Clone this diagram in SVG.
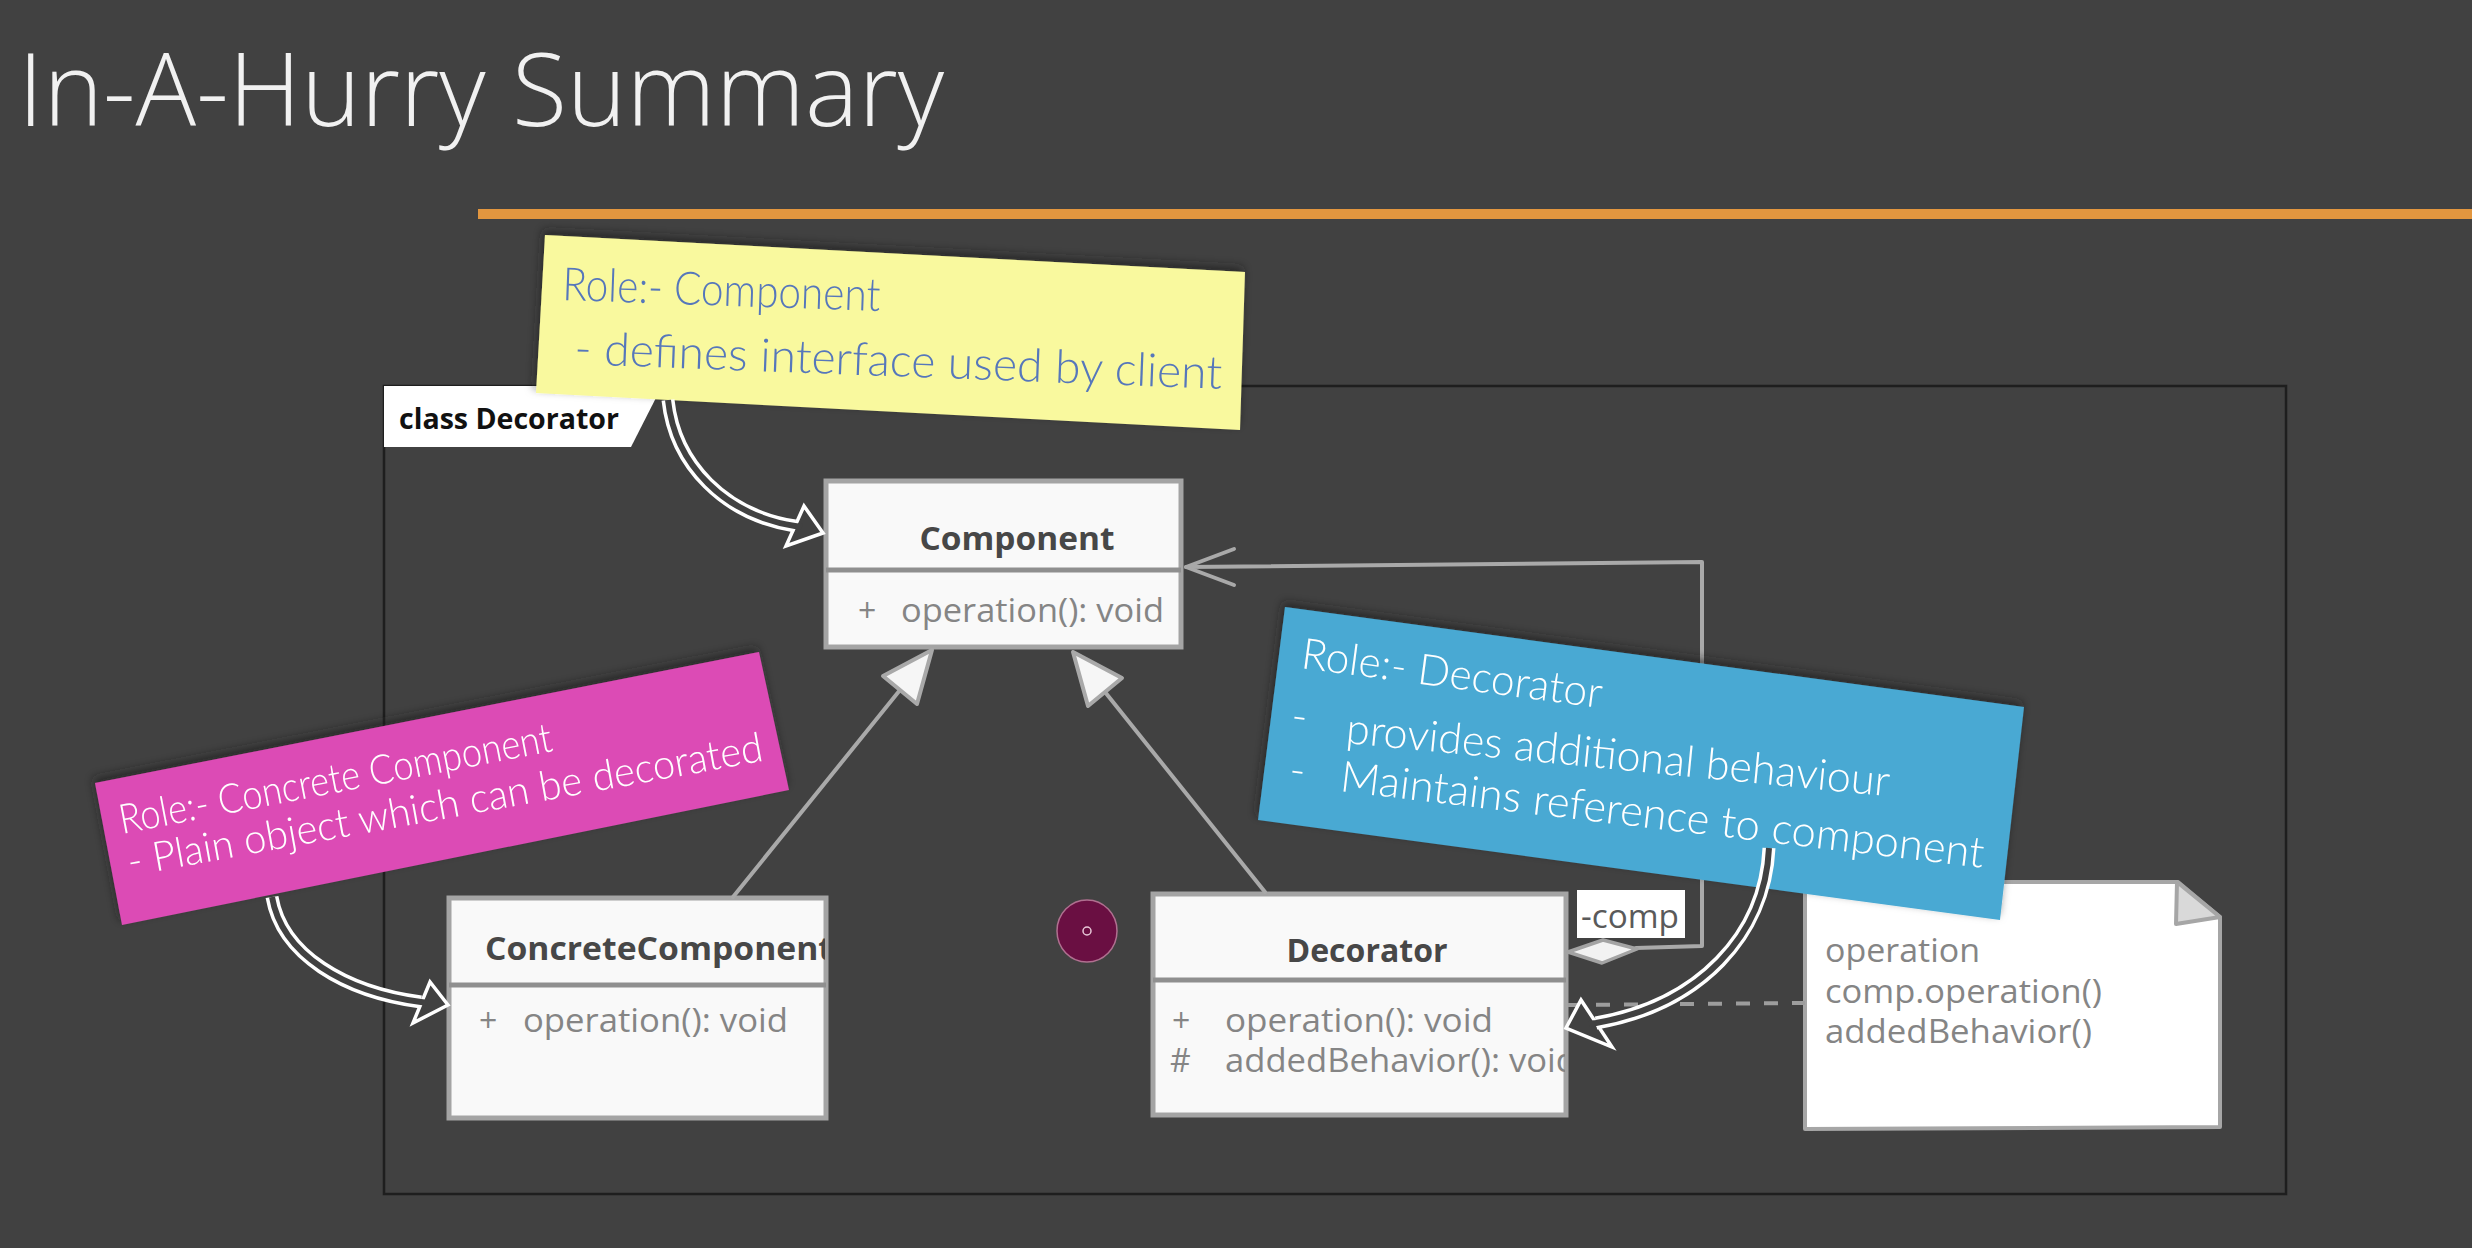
<svg xmlns="http://www.w3.org/2000/svg" width="2472" height="1248" viewBox="0 0 2472 1248">
  <style>
    .ui { font-family: 'Open Sans', 'Liberation Sans', sans-serif; }
    .title { font-weight: 300; font-size: 102px; fill: #f1f1f1; }
    .box { fill: #f9f9f9; stroke: #a4a4a4; stroke-width: 5; }
    .div { stroke: #8f8f8f; stroke-width: 5; }
    .cname { font-weight: 700; font-size: 32px; fill: #474747; }
    .mem { font-size: 32px; fill: #858585; }
    .link { fill: none; stroke: #a9a9a9; stroke-width: 4; stroke-linejoin: round; stroke-linecap: round; }
    .gen { fill: #f6f6f6; stroke: #a9a9a9; stroke-width: 4; stroke-linejoin: round; }
    .hand { font-family: 'Lato', 'Open Sans', 'Liberation Sans', sans-serif; font-weight: 300; }
    .shaft-out { fill: none; stroke: #ffffff; stroke-width: 13; }
    .shaft-in { fill: none; stroke: #414141; stroke-width: 6; }
    .head { fill: #414141; stroke: #ffffff; stroke-width: 3.5; stroke-linejoin: miter; }
  </style>
  <defs>
    <filter id="curl" x="-10%" y="-20%" width="120%" height="140%">
      <feDropShadow dx="-2" dy="-5" stdDeviation="5" flood-color="#1a1a1a" flood-opacity="0.6"/>
    </filter>
    <clipPath id="clipConcrete"><rect x="449" y="898" width="376" height="220"/></clipPath>
    <clipPath id="clipDecorator"><rect x="1153" y="894" width="412" height="221"/></clipPath>
  </defs>

  <!-- slide background -->
  <rect x="0" y="0" width="2472" height="1248" fill="#414141"/>

  <!-- heading -->
  <text class="ui title" x="18" y="126" textLength="926" lengthAdjust="spacingAndGlyphs">In-A-Hurry Summary</text>
  <rect x="478" y="209" width="1994" height="10" fill="#e2963f"/>

  <!-- package frame -->
  <g id="package">
    <rect x="384" y="386" width="1902" height="808" fill="none" stroke="#1e1e1e" stroke-width="2.5"/>
    <polygon points="384,386 662,386 631,447 384,447" fill="#ffffff"/>
    <text class="ui" x="399" y="429" font-size="28" font-weight="700" fill="#111111" textLength="220" lengthAdjust="spacingAndGlyphs">class Decorator</text>
  </g>

  <!-- classes -->
  <g id="component">
    <rect class="box" x="826" y="481" width="355" height="166"/>
    <line class="div" x1="826" y1="570" x2="1181" y2="570"/>
    <text class="ui cname" x="1017" y="550" text-anchor="middle" textLength="195" lengthAdjust="spacingAndGlyphs">Component</text>
    <text class="ui mem" x="858" y="622">+</text>
    <text class="ui mem" x="901" y="622" textLength="263" lengthAdjust="spacingAndGlyphs">operation(): void</text>
  </g>

  <g id="concrete-component">
    <rect class="box" x="449" y="898" width="377" height="220"/>
    <line class="div" x1="449" y1="985" x2="826" y2="985"/>
    <g clip-path="url(#clipConcrete)">
      <text class="ui cname" x="485" y="960" textLength="348" lengthAdjust="spacingAndGlyphs">ConcreteComponent</text>
    </g>
    <text class="ui mem" x="479" y="1032">+</text>
    <text class="ui mem" x="523" y="1032" textLength="265" lengthAdjust="spacingAndGlyphs">operation(): void</text>
  </g>

  <g id="decorator">
    <rect class="box" x="1153" y="894" width="413" height="221"/>
    <line class="div" x1="1153" y1="980" x2="1566" y2="980"/>
    <text class="ui cname" x="1367" y="962" text-anchor="middle" textLength="161" lengthAdjust="spacingAndGlyphs">Decorator</text>
    <text class="ui mem" x="1172" y="1032">+</text>
    <text class="ui mem" x="1225" y="1032" textLength="268" lengthAdjust="spacingAndGlyphs">operation(): void</text>
    <text class="ui mem" x="1170" y="1072">#</text>
    <g clip-path="url(#clipDecorator)">
      <text class="ui mem" x="1225" y="1072" textLength="352" lengthAdjust="spacingAndGlyphs">addedBehavior(): void</text>
    </g>
  </g>

  <g id="operation-note">
    <polygon points="1805,882 2178,882 2220,917 2220,1127 1805,1129" fill="#ffffff" stroke="#a6a6a6" stroke-width="4" stroke-linejoin="round"/>
    <polygon points="2177,882 2176,924 2220,917" fill="#d9d9d9" stroke="#a6a6a6" stroke-width="4" stroke-linejoin="round"/>
    <text class="ui mem" x="1825" y="962" font-size="33" fill="#777777" textLength="155" lengthAdjust="spacingAndGlyphs">operation</text>
    <text class="ui mem" x="1825" y="1003" font-size="33" fill="#777777" textLength="277" lengthAdjust="spacingAndGlyphs">comp.operation()</text>
    <text class="ui mem" x="1825" y="1043" font-size="33" fill="#777777" textLength="267" lengthAdjust="spacingAndGlyphs">addedBehavior()</text>
  </g>

  <!-- relationships -->
  <g id="connectors">
    <!-- generalization: ConcreteComponent -> Component -->
    <line class="link" x1="733" y1="897" x2="900" y2="690"/>
    <polygon class="gen" points="932,650 917,704 883,676"/>
    <!-- generalization: Decorator -> Component -->
    <line class="link" x1="1265" y1="892" x2="1105" y2="692"/>
    <polygon class="gen" points="1073,652 1122,678 1088,706"/>
    <!-- aggregation: Decorator -comp -> Component -->
    <path class="link" d="M 1636 948 L 1702 946 L 1702 562 L 1186 567"/>
    <path class="link" d="M 1234 549 L 1186 567 L 1234 585"/>
    <polygon points="1568,952 1603,940 1637,949 1602,963" fill="#f2f2f2" stroke="#a3a3a3" stroke-width="3.5" stroke-linejoin="round"/>
    <!-- note anchor -->
    <line x1="1568" y1="1005" x2="1805" y2="1003" stroke="#9d9d9d" stroke-width="4" stroke-dasharray="14 14"/>
  </g>

  <g id="comp-label">
    <rect x="1577" y="890" width="108" height="48" fill="#ffffff"/>
    <text class="ui" x="1581" y="928" font-size="33" fill="#5a5a5a" textLength="98" lengthAdjust="spacingAndGlyphs">-comp</text>
  </g>

  <!-- pointer dot -->
  <g id="pointer">
    <ellipse cx="1087" cy="931" rx="30" ry="31" fill="#6a0f42" stroke="#b07090" stroke-width="1.5"/>
    <circle cx="1087" cy="931" r="4" fill="none" stroke="#e8c8d8" stroke-width="1.5"/>
  </g>

  <!-- sticky notes -->
  <g id="note-component" filter="url(#curl)">
    <polygon points="545,235 1245,272 1240,430 536,393" fill="#f9f99e"/>
    <text class="hand" x="562" y="300" font-size="46" fill="#5677bb" transform="rotate(2 562 300)" textLength="318" lengthAdjust="spacingAndGlyphs">Role:- Component</text>
    <text class="hand" x="574" y="364" font-size="46" fill="#5677bb" transform="rotate(2.2 574 364)" textLength="648" lengthAdjust="spacingAndGlyphs">- defines interface used by client</text>
  </g>

  <g id="note-concrete" filter="url(#curl)">
    <polygon points="95,783 759,652 789,790 122,925" fill="#dc4cb5"/>
    <text class="hand" x="122" y="834" font-size="41" fill="#ffffff" transform="rotate(-10.9 122 834)" textLength="440" lengthAdjust="spacingAndGlyphs">Role:- Concrete Component</text>
    <text class="hand" x="130" y="876" font-size="41" fill="#ffffff" transform="rotate(-10.3 130 876)" textLength="645" lengthAdjust="spacingAndGlyphs">- Plain object which can be decorated</text>
  </g>

  <g id="note-decorator" filter="url(#curl)">
    <polygon points="1285,607 2024,707 2000,920 1258,820" fill="#49a9d3"/>
    <text class="hand" x="1300" y="668" font-size="43" fill="#ffffff" transform="rotate(7.6 1300 668)" textLength="303" lengthAdjust="spacingAndGlyphs">Role:- Decorator</text>
    <text class="hand" x="1290" y="730" font-size="43" fill="#ffffff" transform="rotate(7 1290 730)">-</text>
    <text class="hand" x="1345" y="743" font-size="43" fill="#ffffff" transform="rotate(5.6 1345 743)" textLength="546" lengthAdjust="spacingAndGlyphs">provides additional behaviour</text>
    <text class="hand" x="1288" y="784" font-size="43" fill="#ffffff" transform="rotate(7 1288 784)">-</text>
    <text class="hand" x="1339" y="791" font-size="43" fill="#ffffff" transform="rotate(6.8 1339 791)" textLength="648" lengthAdjust="spacingAndGlyphs">Maintains reference to component</text>
  </g>

  <!-- hand-drawn pointers from the notes to their classes -->
  <g id="pointer-arrows">
    <g id="arrow-component">
      <polygon class="head" points="823,533 804,506 786,546"/>
      <path class="shaft-out" d="M 668 400 C 675 465, 725 515, 795 526"/>
      <path class="shaft-in" d="M 668 400 C 675 465, 725 515, 795 526 L 802 527"/>
    </g>
    <g id="arrow-concrete">
      <polygon class="head" points="448,1005 430,982 413,1023"/>
      <path class="shaft-out" d="M 272 897 C 282 955, 345 992, 421 1002"/>
      <path class="shaft-in" d="M 272 897 C 282 955, 345 992, 421 1002 L 428 1003"/>
    </g>
    <g id="arrow-decorator">
      <polygon class="head" points="1566,1028 1581,1000 1612,1047"/>
      <path class="shaft-out" d="M 1769 848 C 1765 935, 1700 1005, 1596 1023"/>
      <path class="shaft-in" d="M 1769 848 C 1765 935, 1700 1005, 1596 1023 L 1589 1024"/>
    </g>
  </g>
</svg>
